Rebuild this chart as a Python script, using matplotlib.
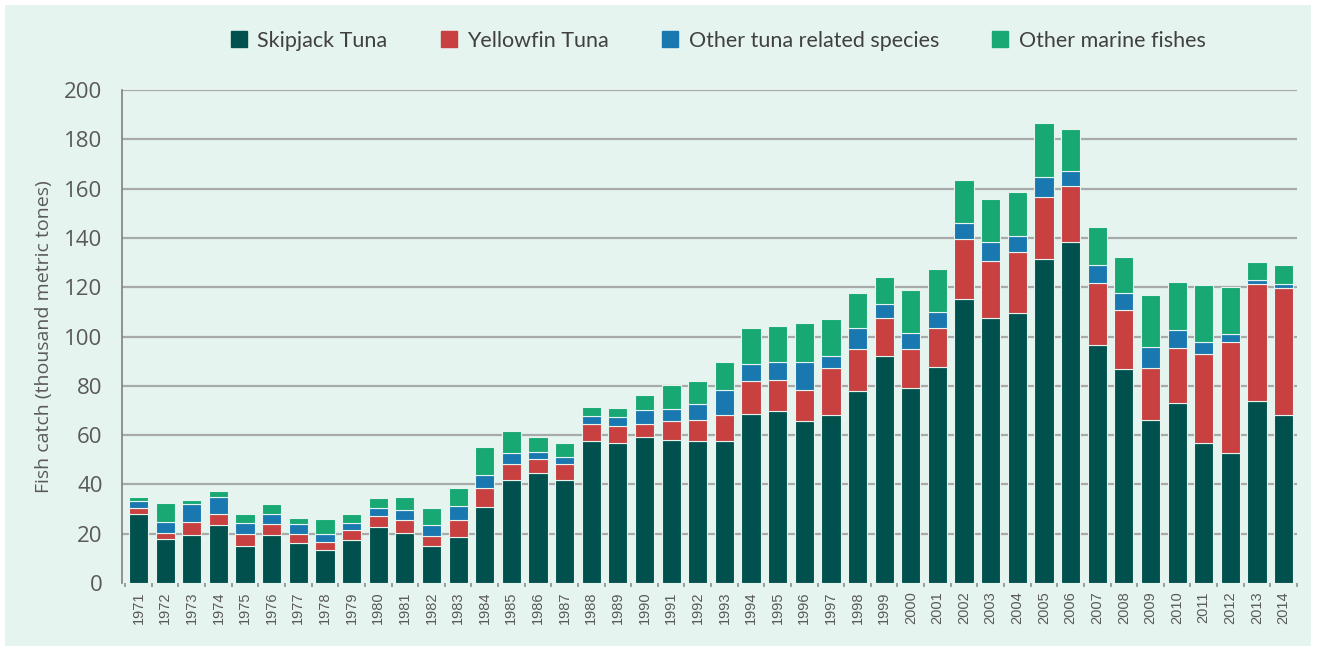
import matplotlib.pyplot as plt
import matplotlib.patches as mpatches
import numpy as np

# Годы и улов по видам (тыс. метрических тонн)
years = list(range(1971, 2015))

skipjack = [28.0, 18.0, 19.3, 23.4, 15.1, 19.3, 16.2, 13.3, 17.3, 22.7,
            20.2, 15.0, 18.8, 31.0, 41.9, 44.6, 41.6, 57.5, 56.9, 59.2,
            57.9, 57.6, 57.6, 68.7, 69.8, 65.6, 68.0, 77.8, 92.1, 79.2,
            87.5, 115.1, 107.6, 109.4, 131.4, 138.2, 96.6, 86.7, 66.1, 73.2,
            56.9, 52.9, 73.8, 68.2]
yellowfin = [2.4, 2.4, 5.6, 4.6, 4.6, 4.6, 3.7, 3.5, 4.2, 4.6,
             5.4, 4.2, 6.8, 7.4, 6.2, 5.6, 6.5, 6.9, 6.8, 5.2,
             7.8, 8.7, 10.4, 13.1, 12.7, 12.6, 19.2, 17.0, 15.3, 15.6,
             15.8, 24.5, 23.0, 25.0, 25.3, 22.9, 25.0, 24.1, 21.0, 22.0,
             35.9, 45.0, 47.5, 51.6]
other_tuna = [3.0, 4.5, 7.0, 6.8, 4.5, 4.1, 4.0, 3.1, 2.7, 3.0,
              4.0, 4.3, 5.8, 5.4, 4.8, 2.9, 3.0, 3.3, 3.6, 5.6,
              5.0, 6.5, 10.2, 7.2, 7.2, 11.5, 4.8, 8.6, 5.8, 6.5,
              6.5, 6.6, 7.9, 6.4, 7.9, 6.2, 7.4, 6.7, 8.8, 7.4,
              5.1, 3.1, 1.6, 1.5]
other_marine = [1.5, 7.4, 1.8, 2.6, 3.7, 4.2, 2.6, 5.9, 3.7, 4.3,
                5.2, 6.9, 7.0, 11.5, 8.9, 6.1, 5.7, 3.7, 3.8, 6.4,
                9.8, 9.0, 11.6, 14.4, 14.7, 15.8, 15.2, 14.4, 11.1, 17.6,
                17.4, 17.3, 17.3, 17.7, 21.9, 16.7, 15.6, 14.9, 20.9, 19.6,
                23.0, 18.9, 7.5, 7.7]

series = [
    ("Skipjack Tuna", skipjack, "#00514d"),
    ("Yellowfin Tuna", yellowfin, "#c8403f"),
    ("Other tuna related species", other_tuna, "#1a78b0"),
    ("Other marine fishes", other_marine, "#17a874"),
]

text_color = "#595959"
bg_color = "#e6f4ef"

fig = plt.figure(figsize=(13.35, 6.51), dpi=100, facecolor="white")

# Светлая подложка всей картинки (под осями)
fig.patches.append(mpatches.Rectangle((0.004, 0.008), 0.978, 0.984,
                                      transform=fig.transFigure,
                                      facecolor=bg_color, edgecolor="none",
                                      zorder=-10))

ax = fig.add_axes([0.0914, 0.1044, 0.8801, 0.7574])
ax.set_facecolor("none")

x = np.arange(len(years))
bottom = np.zeros(len(years))
handles = []
for name, values, color in series:
    vals = np.array(values)
    ax.bar(x, vals, width=0.72, bottom=bottom, color=color,
           edgecolor=bg_color, linewidth=0.8, zorder=3)
    bottom += vals
    handles.append(plt.Line2D([], [], marker="s", linestyle="none",
                              markersize=12, color=color, label=name))

ax.set_xlim(-0.62, 43.39)
ax.set_ylim(0, 200)
ax.set_yticks(range(0, 201, 20))

# Сетка по оси Y
for y in range(20, 201, 20):
    ax.axhline(y, color="#a8aaa9", linewidth=1.6, zorder=1)

ax.set_xticks(x)
ax.set_xticklabels([str(y) for y in years], rotation=90,
                   fontsize=10.5, color=text_color, family="Liberation Sans")
ax.tick_params(axis="x", length=0, pad=6)
ax.set_xticks(np.arange(-0.5, 43.6, 1), minor=True)
ax.tick_params(axis="x", which="minor", length=3, color="#909090", width=1.2)

ax.tick_params(axis="y", length=0, pad=14, labelsize=16, labelcolor=text_color)
for lbl in ax.get_yticklabels():
    lbl.set_family("Open Sans")

for side in ["top", "right", "bottom"]:
    ax.spines[side].set_visible(False)
ax.spines["left"].set_color("#808080")
ax.spines["left"].set_linewidth(1.2)

ax.set_ylabel("Fish catch (thousand metric tones)", fontsize=14,
              color=text_color, family="Open Sans", labelpad=8)

fig.legend(handles=handles, loc="center", bbox_to_anchor=(0.533, 0.937),
           ncol=4, frameon=False, handletextpad=-0.15, columnspacing=1.85,
           prop={"family": "Lato", "size": 15.5}, labelcolor="#404040")

plt.savefig("out.png", dpi=100, facecolor="white")
